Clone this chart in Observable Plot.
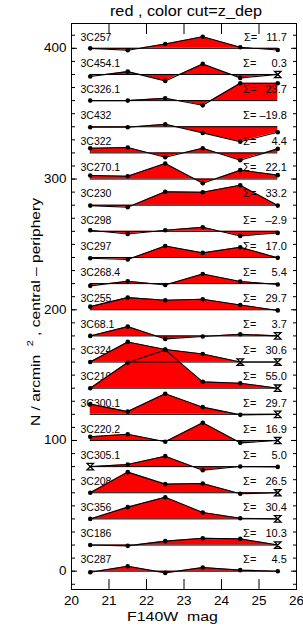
<!DOCTYPE html>
<html><head><meta charset="utf-8">
<script src="https://cdn.jsdelivr.net/npm/d3@7"></script>
<script src="https://cdn.jsdelivr.net/npm/@observablehq/plot@0.6"></script>
<style>html,body{margin:0;padding:0;background:#fff;}</style>
</head><body><div id="chart"></div>
<script>
// ---- data ----
const mags = [20.5, 21.5, 22.5, 23.5, 24.5, 25.5];
const xTickLabels = [20, 21, 22, 23, 24, 25, 26];
const xMajorTicks = [21, 22, 23, 24, 25];
const yTickLabels = [0, 100, 200, 300, 400];
const yMinorTicks = d3.range(-10, 411, 10);
const names = ["3C257", "3C454.1", "3C326.1", "3C432", "3C322", "3C270.1", "3C230",
  "3C298", "3C297", "3C268.4", "3C255", "3C68.1", "3C324", "3C210", "3C300.1",
  "3C220.2", "3C305.1", "3C208", "3C356", "3C186", "3C287"];
const sigmaLabels = ["11.7", "0.3", "23.7", "–19.8", "4.4", "22.1", "33.2",
  "–2.9", "17.0", "5.4", "29.7", "3.7", "30.6", "55.0", "29.7",
  "16.9", "5.0", "26.5", "30.4", "10.3", "4.5"];
const profiles = [
  [0, -1.5, 3.3, 8.9, 0.8, -1.3],
  [-1.6, 2.2, -4.9, 8.1, -2.6, 0],
  [0, 0, 1.8, -3.6, 13.3, 13.3],
  [-0.4, -0.4, 1.9, -4.7, -11.4, -4.2],
  [3.6, 4.1, -3.3, 3.6, -5.6, 3.1],
  [2.7, 2.2, 11.9, -3.2, 6.8, 3.0],
  [-0.3, -1.6, 10.2, 9.9, 15.3, -0.3],
  [0.8, -2.0, 0.8, 3.1, -3.5, -1.2],
  [-0.6, -1.6, 8.8, 3.5, 7.8, -0.3],
  [-1.7, 1.8, -1.0, 7.4, 1.6, -0.7],
  [2.4, 9.3, 7.3, 8.1, 3.7, -0.5],
  [0, 7.1, -2.3, -0.5, 1.3, 0],
  [0, 15.4, 9.6, 6.2, 0, 0],
  [0, 19.6, 29.3, 4.8, 3.8, 0],
  [7.8, 2.1, 15.8, 5.5, -0.4, 0],
  [2.8, 4.8, -1.0, 13.5, -1.8, 0],
  [0, 1.6, 8.0, -2.7, 0.1, -0.2],
  [0, 15.8, 6.6, 7.1, -0.8, 0],
  [0, 9.0, 16.6, 4.9, 0.5, 0],
  [0, -0.6, 3.0, 5.2, 4.7, 0],
  [-0.8, 3.8, -1.3, 2.8, 0.8, 0]
];
// [row index, bin index] of empty bins (drawn as crosses)
const emptyBins = [[1,5],[11,5],[12,4],[12,5],[13,5],[14,5],[15,5],[16,0],[17,5],[18,5],[19,5]];
const rowStep = 20;
const titleText = "red , color cut=z_dep";
const xLabel = "F140W\u00a0\u00a0mag";

// ---- build tables ----
const n = names.length;
const rows = names.map((name, i) => ({
  name, off: (n - 1 - i) * rowStep,
  sigma: "Σ=\u00a0" + sigmaLabels[i].padStart(5, "\u2007")
}));
const isEmpty = (i, j) => emptyBins.some(([a, b]) => a === i && b === j);
const pts = [];
rows.forEach((r, i) => profiles[i].forEach((v, j) =>
  pts.push({name: r.name, off: r.off, mag: mags[j], top: r.off + v, empty: isEmpty(i, j)})));

const hourglass = {
  draw(ctx, size) {
    const s = Math.sqrt(size) / 2;
    ctx.moveTo(-s, -s); ctx.lineTo(s, -s); ctx.lineTo(-s, s); ctx.lineTo(s, s); ctx.closePath();
  }
};

const font = "'Liberation Sans', Arial, Helvetica, sans-serif";
const plot = Plot.plot({
  width: 303, height: 635,
  marginLeft: 71, marginRight: 7, marginTop: 23, marginBottom: 46,
  x: {domain: [20, 26]},
  y: {domain: [-14, 419]},
  style: {fontFamily: font, background: "white", color: "black", overflow: "visible"},
  marks: [
    Plot.text(rows, {y: "off", text: "name", frameAnchor: "left", dx: 9, dy: -11,
      textAnchor: "start", fontSize: 10, fill: "black"}),
    Plot.areaY(pts, {x: "mag", y1: "off", y2: "top", z: "name", fill: "red"}),
    Plot.ruleY(rows, {y: "off", x1: mags[0], x2: mags[mags.length - 1], stroke: "black", strokeWidth: 1}),
    Plot.line(pts, {x: "mag", y: "top", z: "name", stroke: "black", strokeWidth: 1.1}),
    Plot.dot(pts.filter(d => !d.empty), {x: "mag", y: "top", r: 2.3, fill: "black"}),
    Plot.dot(pts.filter(d => d.empty), {x: "mag", y: "top", r: 3.6, symbol: hourglass,
      stroke: "black", strokeWidth: 1.3, fill: "none"}),
    Plot.text(rows, {y: "off", text: "sigma", frameAnchor: "right", dx: -9.6, dy: -11,
      textAnchor: "end", fontSize: 10, fill: "black"}),
    Plot.frame({stroke: "black", strokeWidth: 1}),
    Plot.axisX(xMajorTicks, {anchor: "bottom", tickSize: -10, fill: "none", label: null}),
    Plot.axisX(xMajorTicks, {anchor: "top", tickSize: -10, fill: "none", label: null}),
    Plot.axisX(xTickLabels, {anchor: "bottom", tickSize: 0, tickPadding: 7, fontSize: 12, label: null}),
    Plot.axisY(yMinorTicks, {anchor: "left", tickSize: -4, fill: "none", label: null}),
    Plot.axisY(yMinorTicks, {anchor: "right", tickSize: -4, fill: "none", label: null}),
    Plot.axisY(yTickLabels, {anchor: "left", tickSize: -6, fill: "none", label: null}),
    Plot.axisY(yTickLabels, {anchor: "right", tickSize: -6, fill: "none", label: null}),
    Plot.axisY(yTickLabels, {anchor: "left", tickSize: 0, tickPadding: 5, fontSize: 12, label: null}),
    Plot.text([titleText], {frameAnchor: "top", dx: 2, dy: -8, lineAnchor: "bottom",
      fontSize: 14, fill: "black"}),
    Plot.text([xLabel], {frameAnchor: "bottom", dx: -11.5, dy: 31, lineAnchor: "bottom",
      fontSize: 13, fill: "black"})
  ]
});
document.getElementById("chart").append(plot);

// y label with superscript
const svg = d3.select(plot);
const yl = svg.append("text")
  .attr("transform", "translate(40,312) rotate(-90)")
  .attr("text-anchor", "middle").attr("font-size", 13).attr("fill", "black")
  .attr("font-family", font);
yl.append("tspan").text("N / arcmin\u00a0\u00a0");
yl.append("tspan").attr("dy", -7).attr("font-size", 9).text("2");
yl.append("tspan").attr("dy", 7).text("\u00a0, central – periphery");

// widen glyphs slightly (the reference font is broad)
const nameSet = new Set(names);
plot.querySelectorAll("text").forEach(t => {
  const s = t.textContent;
  let k = 1;
  if (s === titleText) k = 1.16;
  else if (s === xLabel) k = 1.22;
  else if (s.startsWith("N /")) k = 1.2;
  else if (s.startsWith("Σ")) k = 1.1;
  else if (nameSet.has(s)) k = 1.05;
  else if (/^\d+$/.test(s)) k = 1.12;
  if (k !== 1) {
    const L = t.getComputedTextLength();
    t.setAttribute("textLength", (L * k).toFixed(1));
    t.setAttribute("lengthAdjust", "spacingAndGlyphs");
  }
});
</script>
</body></html>
